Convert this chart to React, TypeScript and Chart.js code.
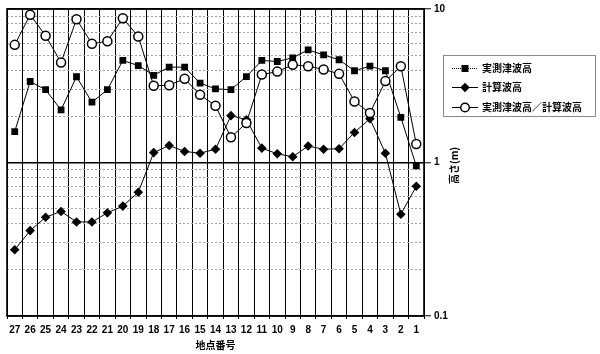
import React, { useEffect, useRef } from 'react';
import { Chart, registerables } from 'chart.js';

Chart.register(...registerables);

const stations = ['27','26','25','24','23','22','21','20','19','18','17','16','15','14','13','12','11','10','9','8','7','6','5','4','3','2','1'];
const measured = [1.59, 3.37, 2.98, 2.2, 3.62, 2.47, 2.98, 4.62, 4.28, 3.7, 4.18, 4.18, 3.29, 3.02, 2.98, 3.63, 4.62, 4.55, 4.81, 5.42, 5.02, 4.67, 3.96, 4.24, 3.96, 1.97, 0.95];
const computed = [0.27, 0.36, 0.44, 0.48, 0.41, 0.41, 0.47, 0.52, 0.64, 1.16, 1.29, 1.18, 1.15, 1.22, 2.02, 1.9, 1.24, 1.14, 1.09, 1.28, 1.22, 1.23, 1.57, 1.93, 1.15, 0.46, 0.7];
const ratio = [5.84, 9.17, 6.69, 4.48, 8.58, 5.93, 6.17, 8.71, 6.62, 3.16, 3.19, 3.51, 2.76, 2.34, 1.46, 1.81, 3.74, 3.91, 4.33, 4.24, 4.04, 3.78, 2.5, 2.1, 3.39, 4.24, 1.32];
const majorTicks = [0.1, 1, 10];
const minorTicks = [0.2, 0.3, 0.4, 0.5, 0.6, 0.7, 0.8, 0.9, 2, 3, 4, 5, 6, 7, 8, 9];
const seriesNames = ['実測津波高', '計算波高', '実測津波高／計算波高'];
const xTitle = '地点番号';
const yTitle = '高さ(m)';

const JP = '"Noto Sans CJK JP", "Noto Sans", sans-serif';
const NUM = '"Liberation Sans", Arial, sans-serif';

function drawMarker(ctx: CanvasRenderingContext2D, kind: string, x: number, y: number) {
  ctx.save();
  ctx.fillStyle = '#000';
  ctx.strokeStyle = '#000';
  if (kind === 'rect') {
    ctx.fillRect(x - 3.5, y - 3.5, 7, 7);
  } else if (kind === 'rectRot') {
    ctx.beginPath();
    ctx.moveTo(x, y - 4.7);
    ctx.lineTo(x + 4.7, y);
    ctx.lineTo(x, y + 4.7);
    ctx.lineTo(x - 4.7, y);
    ctx.closePath();
    ctx.fill();
  } else {
    ctx.beginPath();
    ctx.arc(x, y, 4.3, 0, Math.PI * 2);
    ctx.fillStyle = '#fff';
    ctx.fill();
    ctx.lineWidth = 1.5;
    ctx.stroke();
  }
  ctx.restore();
}

const decorPlugin = {
  id: 'decor',
  beforeDatasetsDraw(chart: any) {
    const { ctx, chartArea: a } = chart;
    ctx.save();
    ctx.strokeStyle = '#000';
    ctx.lineWidth = 1.6;
    ctx.strokeRect(a.left, a.top, a.right - a.left, a.bottom - a.top);
    ctx.restore();
  },
  afterDraw(chart: any) {
    const { ctx, chartArea: a } = chart;
    ctx.save();
    // right axis title, reading bottom to top
    ctx.translate(454, (a.top + a.bottom) / 2 + 3);
    ctx.rotate(-Math.PI / 2);
    ctx.font = `bold 10px ${JP}`;
    ctx.fillStyle = '#000';
    ctx.textAlign = 'center';
    ctx.textBaseline = 'middle';
    ctx.fillText(yTitle, 0, 0);
    ctx.restore();

    // legend
    ctx.save();
    ctx.strokeStyle = '#8a8a8a';
    ctx.lineWidth = 1;
    ctx.strokeRect(443.5, 55.5, 152, 61);
    const kinds = ['rect', 'rectRot', 'circle'];
    const ys = [68, 87, 107];
    for (let i = 0; i < 3; i++) {
      const y = ys[i];
      ctx.save();
      ctx.strokeStyle = '#000';
      ctx.lineWidth = 1;
      ctx.setLineDash(i === 0 ? [1, 1] : []);
      ctx.beginPath();
      ctx.moveTo(452, y + 0.5);
      ctx.lineTo(478, y + 0.5);
      ctx.stroke();
      ctx.restore();
      drawMarker(ctx, kinds[i], 465, y + 0.5);
      ctx.font = `bold 10px ${JP}`;
      ctx.fillStyle = '#000';
      ctx.textAlign = 'left';
      ctx.textBaseline = 'middle';
      ctx.fillText(seriesNames[i], 482, y + 0.5);
    }
    ctx.restore();
  },
};

export default function App() {
  const ref = useRef<HTMLCanvasElement | null>(null);
  useEffect(() => {
    if (!ref.current) return;
    const chart = new Chart(ref.current, {
      type: 'line',
      data: {
        labels: stations,
        datasets: [
          {
            label: seriesNames[0],
            data: measured,
            borderColor: '#000',
            backgroundColor: '#000',
            borderWidth: 1,
            pointStyle: 'rect',
            pointRadius: 4.8,
            pointBorderWidth: 0,
            yAxisID: 'y',
            order: 1,
          },
          {
            label: seriesNames[1],
            data: computed,
            borderColor: '#000',
            backgroundColor: '#000',
            borderWidth: 1,
            pointStyle: 'rectRot',
            pointRadius: 4.8,
            pointBorderWidth: 0,
            yAxisID: 'y',
            order: 2,
          },
          {
            label: seriesNames[2],
            data: ratio,
            borderColor: '#000',
            backgroundColor: '#fff',
            borderWidth: 1,
            pointStyle: 'circle',
            pointRadius: 4.5,
            pointBorderWidth: 1.5,
            yAxisID: 'y',
            order: 0,
          },
        ],
      },
      options: {
        animation: false,
        responsive: false,
        maintainAspectRatio: false,
        layout: { padding: { top: 9, left: 7, right: 0, bottom: 0 } },
        plugins: { legend: { display: false }, tooltip: { enabled: false } },
        scales: {
          x: {
            type: 'category',
            offset: true,
            grid: { offset: true, color: '#000', lineWidth: 1, drawTicks: true, tickLength: 3, tickColor: '#000' },
            border: { display: false },
            ticks: { autoSkip: false, maxRotation: 0, minRotation: 0, padding: 5, color: '#000', font: { family: NUM, size: 10, weight: 'bold' } },
            title: { display: true, text: xTitle, color: '#000', font: { family: JP, size: 10, weight: 'bold' }, padding: { top: 0, bottom: 3 } },
            afterFit: (s: any) => { s.height = 38; },
          },
          y: {
            type: 'logarithmic',
            position: 'right',
            min: 0.1,
            max: 10,
            afterBuildTicks: (s: any) => { s.ticks = majorTicks.map((v) => ({ value: v })); },
            ticks: { color: '#000', padding: 3, font: { family: NUM, size: 10, weight: 'bold' }, callback: (v: any) => String(v) },
            grid: { color: '#000', lineWidth: 1.5, tickLength: 7, tickColor: '#000', tickWidth: 1 },
            border: { display: false },
            afterFit: (s: any) => { s.width = 176; },
          },
          y2: {
            type: 'logarithmic',
            position: 'left',
            min: 0.1,
            max: 10,
            afterBuildTicks: (s: any) => { s.ticks = minorTicks.map((v) => ({ value: v })); },
            ticks: { display: false },
            grid: { color: '#a0a0a0', lineWidth: 1, drawTicks: false },
            border: { display: false, dash: [2, 2] },
            afterFit: (s: any) => { s.width = 0; },
          },
        },
      } as any,
      plugins: [decorPlugin],
    });
    return () => chart.destroy();
  }, []);
  return (
    <div style={{ position: 'fixed', left: 0, top: 0, width: 600, height: 354, background: '#fff' }}>
      <canvas ref={ref} width={600} height={354} />
    </div>
  );
}
